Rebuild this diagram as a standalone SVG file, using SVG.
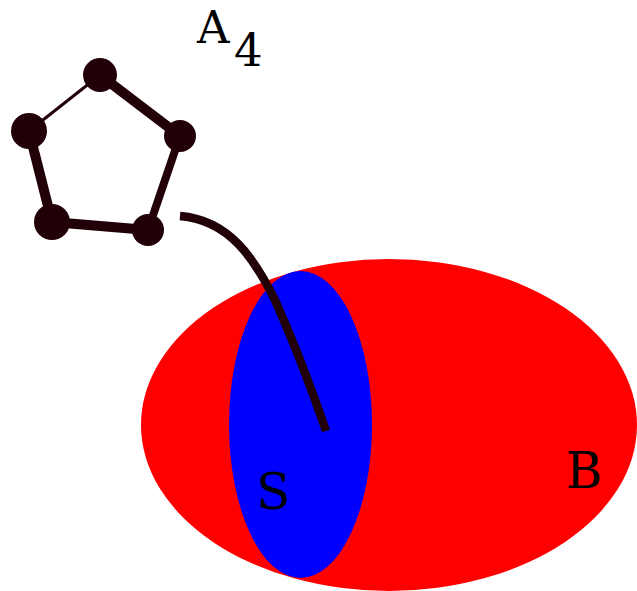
<svg xmlns="http://www.w3.org/2000/svg" width="637" height="591" viewBox="0 0 637 591">
<style>
.lbl{font-family:"DejaVu Serif","Liberation Serif",serif;fill:#000}
.edge{stroke:#220008;fill:none;stroke-linecap:butt}
.node{fill:#220008}
</style>
<rect width="637" height="591" fill="#fff"/>
<g id="B"><ellipse cx="389" cy="425" rx="248" ry="166" fill="#ff0000"/><text class="lbl" x="566" y="488" font-size="50">B</text></g>
<g id="S"><ellipse cx="300.5" cy="424.5" rx="71.5" ry="153.5" fill="#0000ff"/><text class="lbl" x="256" y="509" font-size="50">S</text></g>
<g id="connectors">
<path class="edge" d="M180,216 C230,220 255,260 275,300 C295,345 312,390 326,431" stroke-width="8.5"/>
<line class="edge" x1="100" y1="75" x2="29" y2="131" stroke-width="3"/>
<line class="edge" x1="100" y1="75" x2="180" y2="136" stroke-width="10"/>
<line class="edge" x1="180" y1="136" x2="148" y2="230" stroke-width="8"/>
<line class="edge" x1="148" y1="230" x2="52" y2="222" stroke-width="10"/>
<line class="edge" x1="52" y1="222" x2="29" y2="131" stroke-width="10"/>
</g>
<g id="A4">
<circle class="node" cx="100" cy="75" r="17"/>
<circle class="node" cx="180" cy="136" r="16"/>
<circle class="node" cx="29" cy="131" r="18"/>
<circle class="node" cx="52" cy="222" r="18"/>
<circle class="node" cx="148" cy="230" r="16"/>
<text class="lbl" x="197" y="43" font-size="45">A<tspan x="234" y="66">4</tspan></text>
</g>
</svg>
